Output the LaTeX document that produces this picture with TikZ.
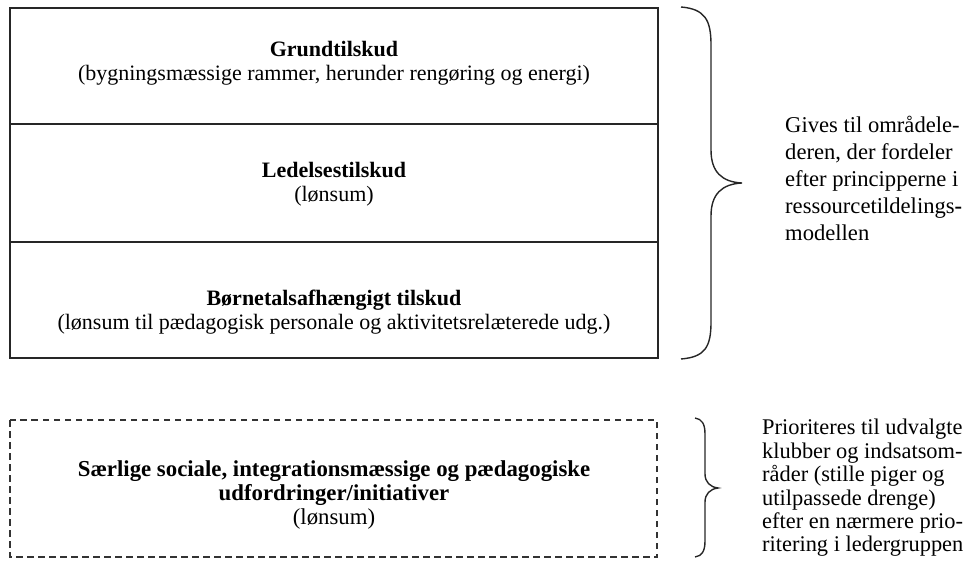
\documentclass[tikz,border=0pt]{standalone}
\usepackage{fontspec}
\setmainfont{Liberation Serif}
\begin{document}
\begin{tikzpicture}[x=1pt,y=-1pt,
  ln/.style={draw=black!85, line width=1.4pt},
  dsh/.style={draw=black!80, line width=1.4pt, dash pattern=on 6.5pt off 4.5pt},
  brc/.style={draw=black!85, line width=1.4pt},
  boxtxt/.style={align=center, font=\fontsize{22}{24.5}\selectfont, inner sep=0pt},
  sidetxt/.style={align=left, anchor=west, font=\fontsize{22.6}{27}\selectfont, inner sep=0pt}]
\useasboundingbox (0,0) rectangle (971,573);
% main box
\draw[ln] (10,8) rectangle (658,358);
\draw[ln] (10,124) -- (658,124);
\draw[ln] (10,242) -- (658,242);
\node[boxtxt] (grund) at (334,63) {\textbf{Grundtilskud}\\(bygningsmæssige rammer, herunder rengøring og energi)};
\node[boxtxt] (ledelse) at (334,184) {\textbf{Ledelsestilskud}\\(lønsum)};
\node[boxtxt] (boern) at (334,312) {\textbf{Børnetalsafhængigt tilskud}\\(lønsum til pædagogisk personale og aktivitetsrelæterede udg.)};
% dashed box
\draw[dsh] (10,420) rectangle (657,557);
\node[boxtxt, font=\fontsize{22.8}{24}\selectfont] (saerlige) at (334,495) {\textbf{Særlige sociale, integrationsmæssige og pædagogiske}\\\textbf{udfordringer/initiativer}\\(lønsum)};
% brace 1
\draw[brc] (681,7) .. controls (705,9) and (711,20) .. (711,45)
  -- (711,150) .. controls (711,172) and (722,182) .. (742,183)
  .. controls (722,184) and (711,194) .. (711,216)
  -- (711,322) .. controls (711,347) and (705,357) .. (681,359);
\node[sidetxt] (gives) at (785,178) {Gives til områdele-\\deren, der fordeler\\efter principperne i\\ressourcetildelings\textbf{-}\\modellen};
% brace 2
\draw[brc] (695,418) .. controls (702,419) and (705,424) .. (705,434)
  -- (705,474) .. controls (705,482) and (710,487) .. (718,488)
  .. controls (710,489) and (705,494) .. (705,502)
  -- (705,541) .. controls (705,551) and (702,556) .. (695,557);
\node[sidetxt, font=\fontsize{22.4}{23.4}\selectfont] (prior) at (762,488) {Prioriteres til udvalgte\\klubber og indsatsom-\\råder (stille piger og\\utilpassede drenge)\\efter en nærmere prio-\\ritering i ledergruppen};
\end{tikzpicture}
\end{document}
